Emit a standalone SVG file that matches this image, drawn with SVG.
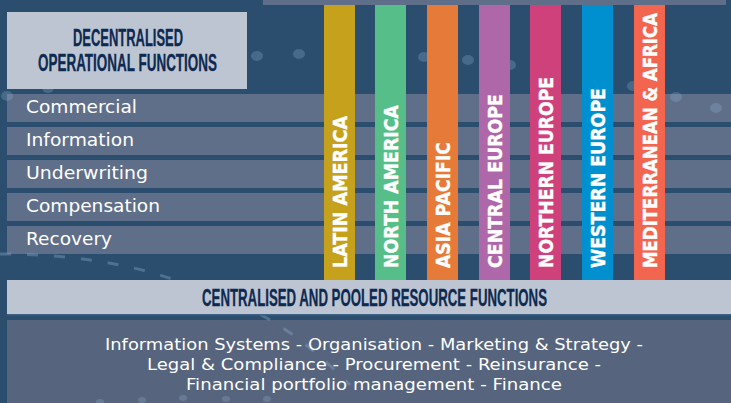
<svg xmlns="http://www.w3.org/2000/svg" width="731" height="403" viewBox="0 0 731 403">
  <defs>
    <style>
      .hdr { font-family: "Liberation Sans", Arial, sans-serif; font-weight: bold; font-size: 23px; fill: #0e2a50; stroke: #0e2a50; stroke-width: 0.3; }
      .row { fill: #5f6f89; }
      .rowtxt { font-family: "DejaVu Sans", "Liberation Sans", sans-serif; font-size: 17.5px; fill: #ffffff; }
      .bartxt { font-family: "DejaVu Sans", "Liberation Sans", sans-serif; font-weight: bold; font-size: 19px; fill: #ffffff; stroke: #ffffff; stroke-width: 0.4; }
      .body { font-family: "DejaVu Sans", "Liberation Sans", sans-serif; font-size: 16.5px; fill: #ffffff; }
      .dot { fill: #8fb2d4; opacity: 0.28; }
      .dash { fill: none; stroke: #8fb2d4; stroke-width: 3; stroke-dasharray: 11 16; opacity: 0.35; }
    </style>
  </defs>

  <!-- background -->
  <rect x="0" y="0" width="731" height="403" fill="#2b4d6e"/>
  <rect x="263" y="0" width="463" height="5" fill="#5f6f89"/>

  <!-- decentralised rows -->
  <g id="rows">
    <g id="row-commercial"><rect class="row" x="7" y="94" width="724" height="28"/><text class="rowtxt" x="26" y="113" textLength="111" lengthAdjust="spacingAndGlyphs">Commercial</text></g>
    <g id="row-information"><rect class="row" x="7" y="127" width="724" height="28"/><text class="rowtxt" x="26" y="146" textLength="108" lengthAdjust="spacingAndGlyphs">Information</text></g>
    <g id="row-underwriting"><rect class="row" x="7" y="160" width="724" height="28"/><text class="rowtxt" x="26" y="179" textLength="122" lengthAdjust="spacingAndGlyphs">Underwriting</text></g>
    <g id="row-compensation"><rect class="row" x="7" y="193" width="724" height="28"/><text class="rowtxt" x="26" y="212" textLength="134" lengthAdjust="spacingAndGlyphs">Compensation</text></g>
    <g id="row-recovery"><rect class="row" x="7" y="226" width="724" height="28"/><text class="rowtxt" x="26" y="245" textLength="86" lengthAdjust="spacingAndGlyphs">Recovery</text></g>
  </g>

  <!-- lower box -->
  <g id="pooled-list">
    <rect x="7" y="320" width="724" height="83" fill="#56647e"/>
  </g>

  <!-- decorative dots and dashes -->
  <g id="decor">
    <ellipse class="dot" cx="257" cy="56" rx="6" ry="5"/>
    <ellipse class="dot" cx="299" cy="54" rx="6" ry="5"/>
    <ellipse class="dot" cx="7" cy="96" rx="6" ry="5"/>
    <ellipse class="dot" cx="48" cy="88" rx="6" ry="5"/>
    <ellipse class="dot" cx="424" cy="57" rx="6" ry="5"/>
    <ellipse class="dot" cx="468" cy="60" rx="6" ry="5"/>
    <ellipse class="dot" cx="510" cy="65" rx="6" ry="5"/>
    <ellipse class="dot" cx="633" cy="86" rx="6" ry="5"/>
    <ellipse class="dot" cx="676" cy="97" rx="6" ry="5"/>
    <ellipse class="dot" cx="716" cy="108" rx="6" ry="5"/>
    <ellipse class="dot" cx="100" cy="402" rx="4" ry="3"/>
    <ellipse class="dot" cx="142" cy="400" rx="4" ry="3"/>
    <ellipse class="dot" cx="183" cy="398" rx="4" ry="3"/>
    <ellipse class="dot" cx="226" cy="399" rx="4" ry="3"/>
    <ellipse class="dot" cx="267" cy="399" rx="4" ry="3"/>
    <path class="dash" d="M0,254 C70,254 130,264 175,280 C215,294 255,306 300,340 C320,356 335,370 350,385"/>
  </g>

  <!-- top-left header -->
  <g id="decentralised-header">
    <rect x="7" y="12" width="240" height="77" fill="#bdc5d3"/>
    <text class="hdr" x="73" y="45.5" textLength="110" lengthAdjust="spacingAndGlyphs">DECENTRALISED</text>
    <text class="hdr" x="38" y="70.5" textLength="179" lengthAdjust="spacingAndGlyphs">OPERATIONAL FUNCTIONS</text>
  </g>

  <!-- regional bars -->
  <g id="regions">
    <g id="bar-latin-america"><rect x="324" y="5" width="31" height="275" fill="#c5a11c"/><text class="bartxt" transform="translate(346.5,268) rotate(-90)" textLength="152" lengthAdjust="spacingAndGlyphs">LATIN AMERICA</text></g>
    <g id="bar-north-america"><rect x="375" y="5" width="31" height="275" fill="#56bf89"/><text class="bartxt" transform="translate(397.5,268) rotate(-90)" textLength="163" lengthAdjust="spacingAndGlyphs">NORTH AMERICA</text></g>
    <g id="bar-asia-pacific"><rect x="427" y="5" width="31" height="275" fill="#e67a38"/><text class="bartxt" transform="translate(449.5,268) rotate(-90)" textLength="126" lengthAdjust="spacingAndGlyphs">ASIA PACIFIC</text></g>
    <g id="bar-central-europe"><rect x="479" y="5" width="31" height="275" fill="#ae67a8"/><text class="bartxt" transform="translate(501.5,268) rotate(-90)" textLength="174" lengthAdjust="spacingAndGlyphs">CENTRAL EUROPE</text></g>
    <g id="bar-northern-europe"><rect x="530" y="5" width="31" height="275" fill="#cf417b"/><text class="bartxt" transform="translate(552.5,268) rotate(-90)" textLength="191" lengthAdjust="spacingAndGlyphs">NORTHERN EUROPE</text></g>
    <g id="bar-western-europe"><rect x="582" y="5" width="31" height="275" fill="#0090d0"/><text class="bartxt" transform="translate(604.5,268) rotate(-90)" textLength="180" lengthAdjust="spacingAndGlyphs">WESTERN EUROPE</text></g>
    <g id="bar-mediterranean-africa"><rect x="634" y="5" width="31" height="275" fill="#f26650"/><text class="bartxt" transform="translate(656.5,268) rotate(-90)" textLength="255" lengthAdjust="spacingAndGlyphs">MEDITERRANEAN &amp; AFRICA</text></g>
  </g>

  <!-- centralised header -->
  <g id="centralised-header">
    <rect x="7" y="280" width="724" height="34" fill="#bdc5d3"/>
    <rect x="7" y="314" width="724" height="1.5" fill="#3d6185"/>
    <text class="hdr" x="202" y="305.5" textLength="345" lengthAdjust="spacingAndGlyphs">CENTRALISED AND POOLED RESOURCE FUNCTIONS</text>
  </g>

  <g id="pooled-text">
    <text class="body" x="105" y="350" textLength="538" lengthAdjust="spacingAndGlyphs">Information Systems - Organisation - Marketing &amp; Strategy -</text>
    <text class="body" x="147" y="370" textLength="454" lengthAdjust="spacingAndGlyphs">Legal &amp; Compliance - Procurement - Reinsurance -</text>
    <text class="body" x="186" y="390" textLength="376" lengthAdjust="spacingAndGlyphs">Financial portfolio management - Finance</text>
  </g>

  <g id="connectors"/>
</svg>
